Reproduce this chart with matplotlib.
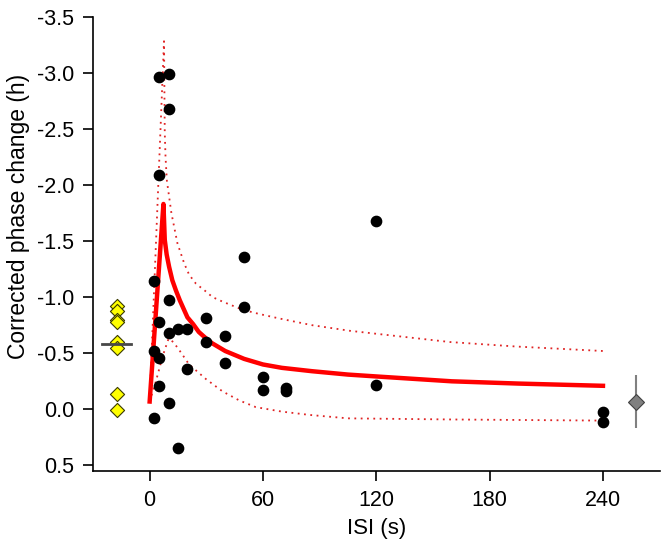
import numpy as np
import matplotlib
matplotlib.use('Agg')
import matplotlib.pyplot as plt

plt.rcParams['font.family'] = ['Liberation Sans', 'DejaVu Sans']
plt.rcParams['axes.unicode_minus'] = False

# Individual responses: inter-stimulus interval (s) vs corrected phase change (h)
isi = [2.5, 2.5, 2.5,
       5, 5, 5, 5, 5,
       10, 10, 10, 10, 10,
       15, 15, 20, 20, 30, 30, 40, 40, 50, 50,
       60, 60, 72, 72, 120, 120, 240, 240]
phase = [-1.14, -0.52, 0.08,
         -2.96, -2.09, -0.78, -0.46, -0.21,
         -2.99, -2.68, -0.97, -0.68, -0.06,
         -0.72, 0.34, -0.72, -0.36, -0.81, -0.60, -0.65, -0.41, -1.36, -0.91,
         -0.29, -0.17, -0.19, -0.16, -1.68, -0.22, 0.02, 0.11]

# Controls drawn left of zero, with their mean
ctrl_x = -17.5
ctrl_phase = [-0.92, -0.88, -0.80, -0.78, -0.60, -0.55, -0.14, 0.01]
ctrl_mean = -0.58
ctrl_span = [-25, -10]

# Single long pulse, mean +/- error
long_x = 257.5
long_mean = -0.07
long_err = 0.24

# Fitted curve and its bounds
fit_x = [0, 7.3, 8.0, 9.0, 10.3, 12.0, 13.9, 16, 20, 23, 26, 30, 33, 40, 50,
         60, 70, 86, 105, 123, 160, 195, 240]
fit_y = [-0.07, -1.83, -1.51, -1.38, -1.27, -1.15, -1.06, -0.97, -0.82, -0.76,
         -0.69, -0.63, -0.59, -0.52, -0.45, -0.40, -0.37, -0.34, -0.31, -0.29,
         -0.25, -0.23, -0.21]
upper_x = [0, 7.6, 8.0, 8.4, 9.1, 11.5, 14.7, 18.3, 20.9, 24.5, 29.8, 33.3,
           38.6, 47.4, 51, 58, 68.6, 86, 106, 159, 194, 240]
upper_y = [-0.07, -3.28, -2.46, -2.25, -2.04, -1.75, -1.48, -1.30, -1.20,
           -1.12, -1.05, -1.00, -0.96, -0.90, -0.88, -0.85, -0.81, -0.75,
           -0.70, -0.60, -0.56, -0.52]
lower_x = [0, 3.3, 7.0, 10.0, 12.5, 15.6, 20.9, 29.8, 38.6, 47.4, 56.2, 70,
           85, 105, 160, 240]
lower_y = [-0.07, -0.25, -0.48, -0.63, -0.60, -0.53, -0.40, -0.27, -0.16,
           -0.08, -0.02, 0.02, 0.05, 0.08, 0.09, 0.10]

fig = plt.figure(figsize=(6.69, 5.51), dpi=100)
ax = fig.add_axes([0.139, 0.145, 0.847, 0.825])

dot = (0, (1, 2.5))
ax.plot(upper_x, upper_y, color='#e02424', lw=1.3, ls=dot, zorder=2)
ax.plot(lower_x, lower_y, color='#e02424', lw=1.3, ls=dot, zorder=2)
ax.plot(fit_x, fit_y, color='#ff0000', lw=3.2, solid_joinstyle='round', zorder=3)
ax.scatter(isi, phase, s=55, color='black', zorder=4)

ax.scatter([ctrl_x] * len(ctrl_phase), ctrl_phase, marker='D', s=52,
           facecolor='#ffff00', edgecolor='#3a3a00', linewidth=0.8, zorder=4)
ax.plot(ctrl_span, [ctrl_mean, ctrl_mean], color='#484848', lw=2, zorder=5)

ax.errorbar(long_x, long_mean, yerr=long_err, fmt='D', ms=8.5,
            mfc='#808080', mec='#404040', mew=0.8, ecolor='#808080',
            elinewidth=1.5, capsize=0, zorder=4)

ax.set_xlim(-30, 270)
ax.set_ylim(0.55, -3.5)
ax.set_xticks([0, 60, 120, 180, 240])
yt = np.arange(-3.5, 0.51, 0.5)
ax.set_yticks(yt)
ax.set_yticklabels(['%.1f' % v for v in yt])

for s in ['top', 'right']:
    ax.spines[s].set_visible(False)
for s in ['left', 'bottom']:
    ax.spines[s].set_linewidth(1.2)
ax.tick_params(direction='out', length=7.5, width=1.2, labelsize=15.5, pad=6)

ax.set_xlabel('ISI (s)', fontsize=16, labelpad=5)
ax.set_ylabel('Corrected phase change (h)', fontsize=16.5)
ax.yaxis.set_label_coords(-0.112, 0.56)

plt.savefig('out.png', dpi=100)
